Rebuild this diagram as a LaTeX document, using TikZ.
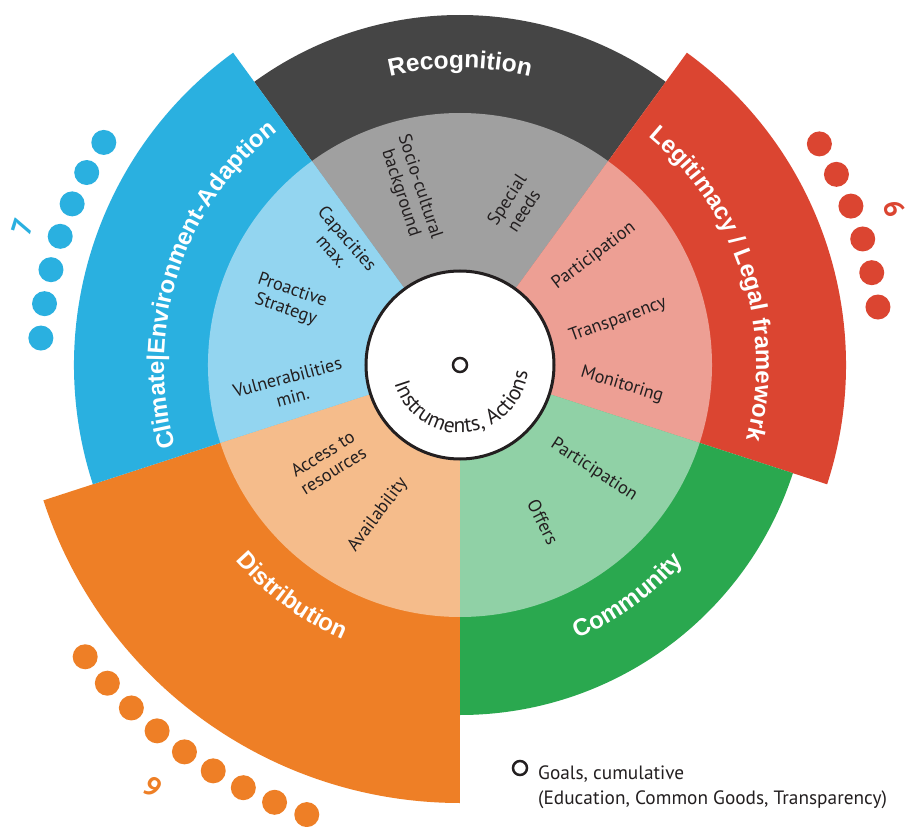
\documentclass[tikz,border=0pt]{standalone}
\usepackage{fontspec}
\setmainfont{PT Sans}
\newfontfamily\headfont{Liberation Sans}
\usetikzlibrary{decorations.text}

\definecolor{cblue}{HTML}{2AB0E0}
\definecolor{cblueL}{HTML}{93D5F0}
\definecolor{cgray}{HTML}{454545}
\definecolor{cgrayL}{HTML}{A0A0A0}
\definecolor{cred}{HTML}{DB4531}
\definecolor{credL}{HTML}{ED9F94}
\definecolor{cgreen}{HTML}{2AA84F}
\definecolor{cgreenL}{HTML}{90D1A6}
\definecolor{corange}{HTML}{EE7F26}
\definecolor{corangeL}{HTML}{F5BC8B}
\definecolor{ink}{HTML}{231F20}

% filled pie wedge: colour, start angle, end angle, radius
\newcommand\wedgefill[4]{\fill[#1] (0,0) -- (#2:#4) arc[start angle=#2, end angle=#3, radius=#4] -- cycle;}

\tikzset{
  inlabel/.style={text=ink, align=center, inner sep=0pt,
    font=\fontsize{18.2}{20}\selectfont},
  countlabel/.style={inner sep=0pt, font=\fontsize{28}{28}\selectfont\bfseries},
  arclabel/.style={decorate, decoration={text along path,
    text format delimiters={<}{>}, text align=center, text color=white}},
}

\begin{document}
\begin{tikzpicture}[x=1pt,y=1pt]
\useasboundingbox (-460,-462) rectangle (445,365);
\fill[white] (-460,-462) rectangle (445,365);

% outer ring sectors
\wedgefill{cgray}{54}{126}{350}
\wedgefill{cred}{-18}{54}{386}
\wedgefill{cgreen}{-90}{-18}{350}
\wedgefill{corange}{198}{270}{438}
\wedgefill{cblue}{126}{198}{386}

% inner ring sectors
\wedgefill{cgrayL}{54}{126}{252}
\wedgefill{credL}{-18}{54}{252}
\wedgefill{cgreenL}{-90}{-18}{252}
\wedgefill{corangeL}{198}{270}{252}
\wedgefill{cblueL}{126}{198}{252}

% hub
\draw[ink, line width=3, fill=white] (0,0) circle (94);
\node[draw=ink, line width=2.5, circle, minimum size=14, inner sep=0pt] (goal) at (0,0) {};
\path[decorate, decoration={text along path, text align=center, text color=ink,
  text={|\fontsize{21.5}{23}\selectfont|Instruments, Actions}}]
  (190:68) arc[start angle=190, end angle=360, radius=68];

% sector titles
\path[arclabel, decoration={text={<\headfont\bfseries\fontsize{24.5}{26}\selectfont>Recognition}}]
  (126:297) arc[start angle=126, end angle=54, radius=297];
\path[arclabel, decoration={text={<\headfont\bfseries\fontsize{24}{26}\selectfont>Legitimacy / Legal framework}}]
  (60:296) arc[start angle=60, end angle=-24, radius=296];
\path[arclabel, decoration={text={<\headfont\bfseries\fontsize{24}{26}\selectfont>Climate|Environment-Adaption}}]
  (204:296) arc[start angle=204, end angle=120, radius=296];
\path[arclabel, decoration={text={<\headfont\bfseries\fontsize{24}{26}\selectfont>Distribution}}]
  (198:298) arc[start angle=198, end angle=270, radius=298];
\path[arclabel, decoration={text={<\headfont\bfseries\fontsize{24}{26}\selectfont>Community}}]
  (270:298) arc[start angle=270, end angle=342, radius=298];

% inner labels
\node[inlabel, rotate=-72] (socio) at (-50,175) {Socio-cultural\\background};
\node[inlabel, rotate=57] (special) at (55,160) {Special\\needs};
\node[inlabel, rotate=37] (partR) at (134,109) {Participation};
\node[inlabel, rotate=20] (transp) at (158,45) {Transparency};
\node[inlabel, rotate=-17] (monit) at (162,-20) {Monitoring};
\node[inlabel, rotate=-33] (partG) at (134,-105) {Participation};
\node[inlabel, rotate=-63] (offers) at (83,-157) {Offers};
\node[inlabel, rotate=32] (access) at (-132,-97) {Access to\\resources};
\node[inlabel, rotate=53] (avail) at (-82,-150) {Availability};
\node[inlabel, rotate=-49] (capac) at (-120,120) {Capacities\\max.};
\node[inlabel, rotate=-19] (proact) at (-171,65) {Proactive\\Strategy};
\node[inlabel, rotate=15] (vuln) at (-170,-22) {Vulnerabilities\\min.};

% counters
\foreach \i in {0,...,6} \fill[cblue] ({148+4.72*\i}:420) circle (12.5);
\foreach \i in {0,...,5} \fill[cred] ({7.9+4.74*\i}:422) circle (12.5);
\foreach \i in {0,...,8} \fill[corange] ({217.9+4.16*\i}:475) circle (12.5);
\node[countlabel, text=cblue, rotate=72.5] (nblue) at (162.5:459) {7};
\node[countlabel, text=cred, rotate=-70] (nred) at (19.8:462) {6};
\node[countlabel, text=corange, rotate=-36] (norange) at (233.9:522) {9};

% legend
\node[draw=ink, line width=2.5, circle, minimum size=14, inner sep=0pt] (legmark) at (60,-403) {};
\node[anchor=west, align=left, text=ink, inner sep=0pt,
  font=\fontsize{19.3}{25}\selectfont] (legtext) at (78,-422) {Goals, cumulative\\(Education, Common Goods, Transparency)};
\end{tikzpicture}
\end{document}
